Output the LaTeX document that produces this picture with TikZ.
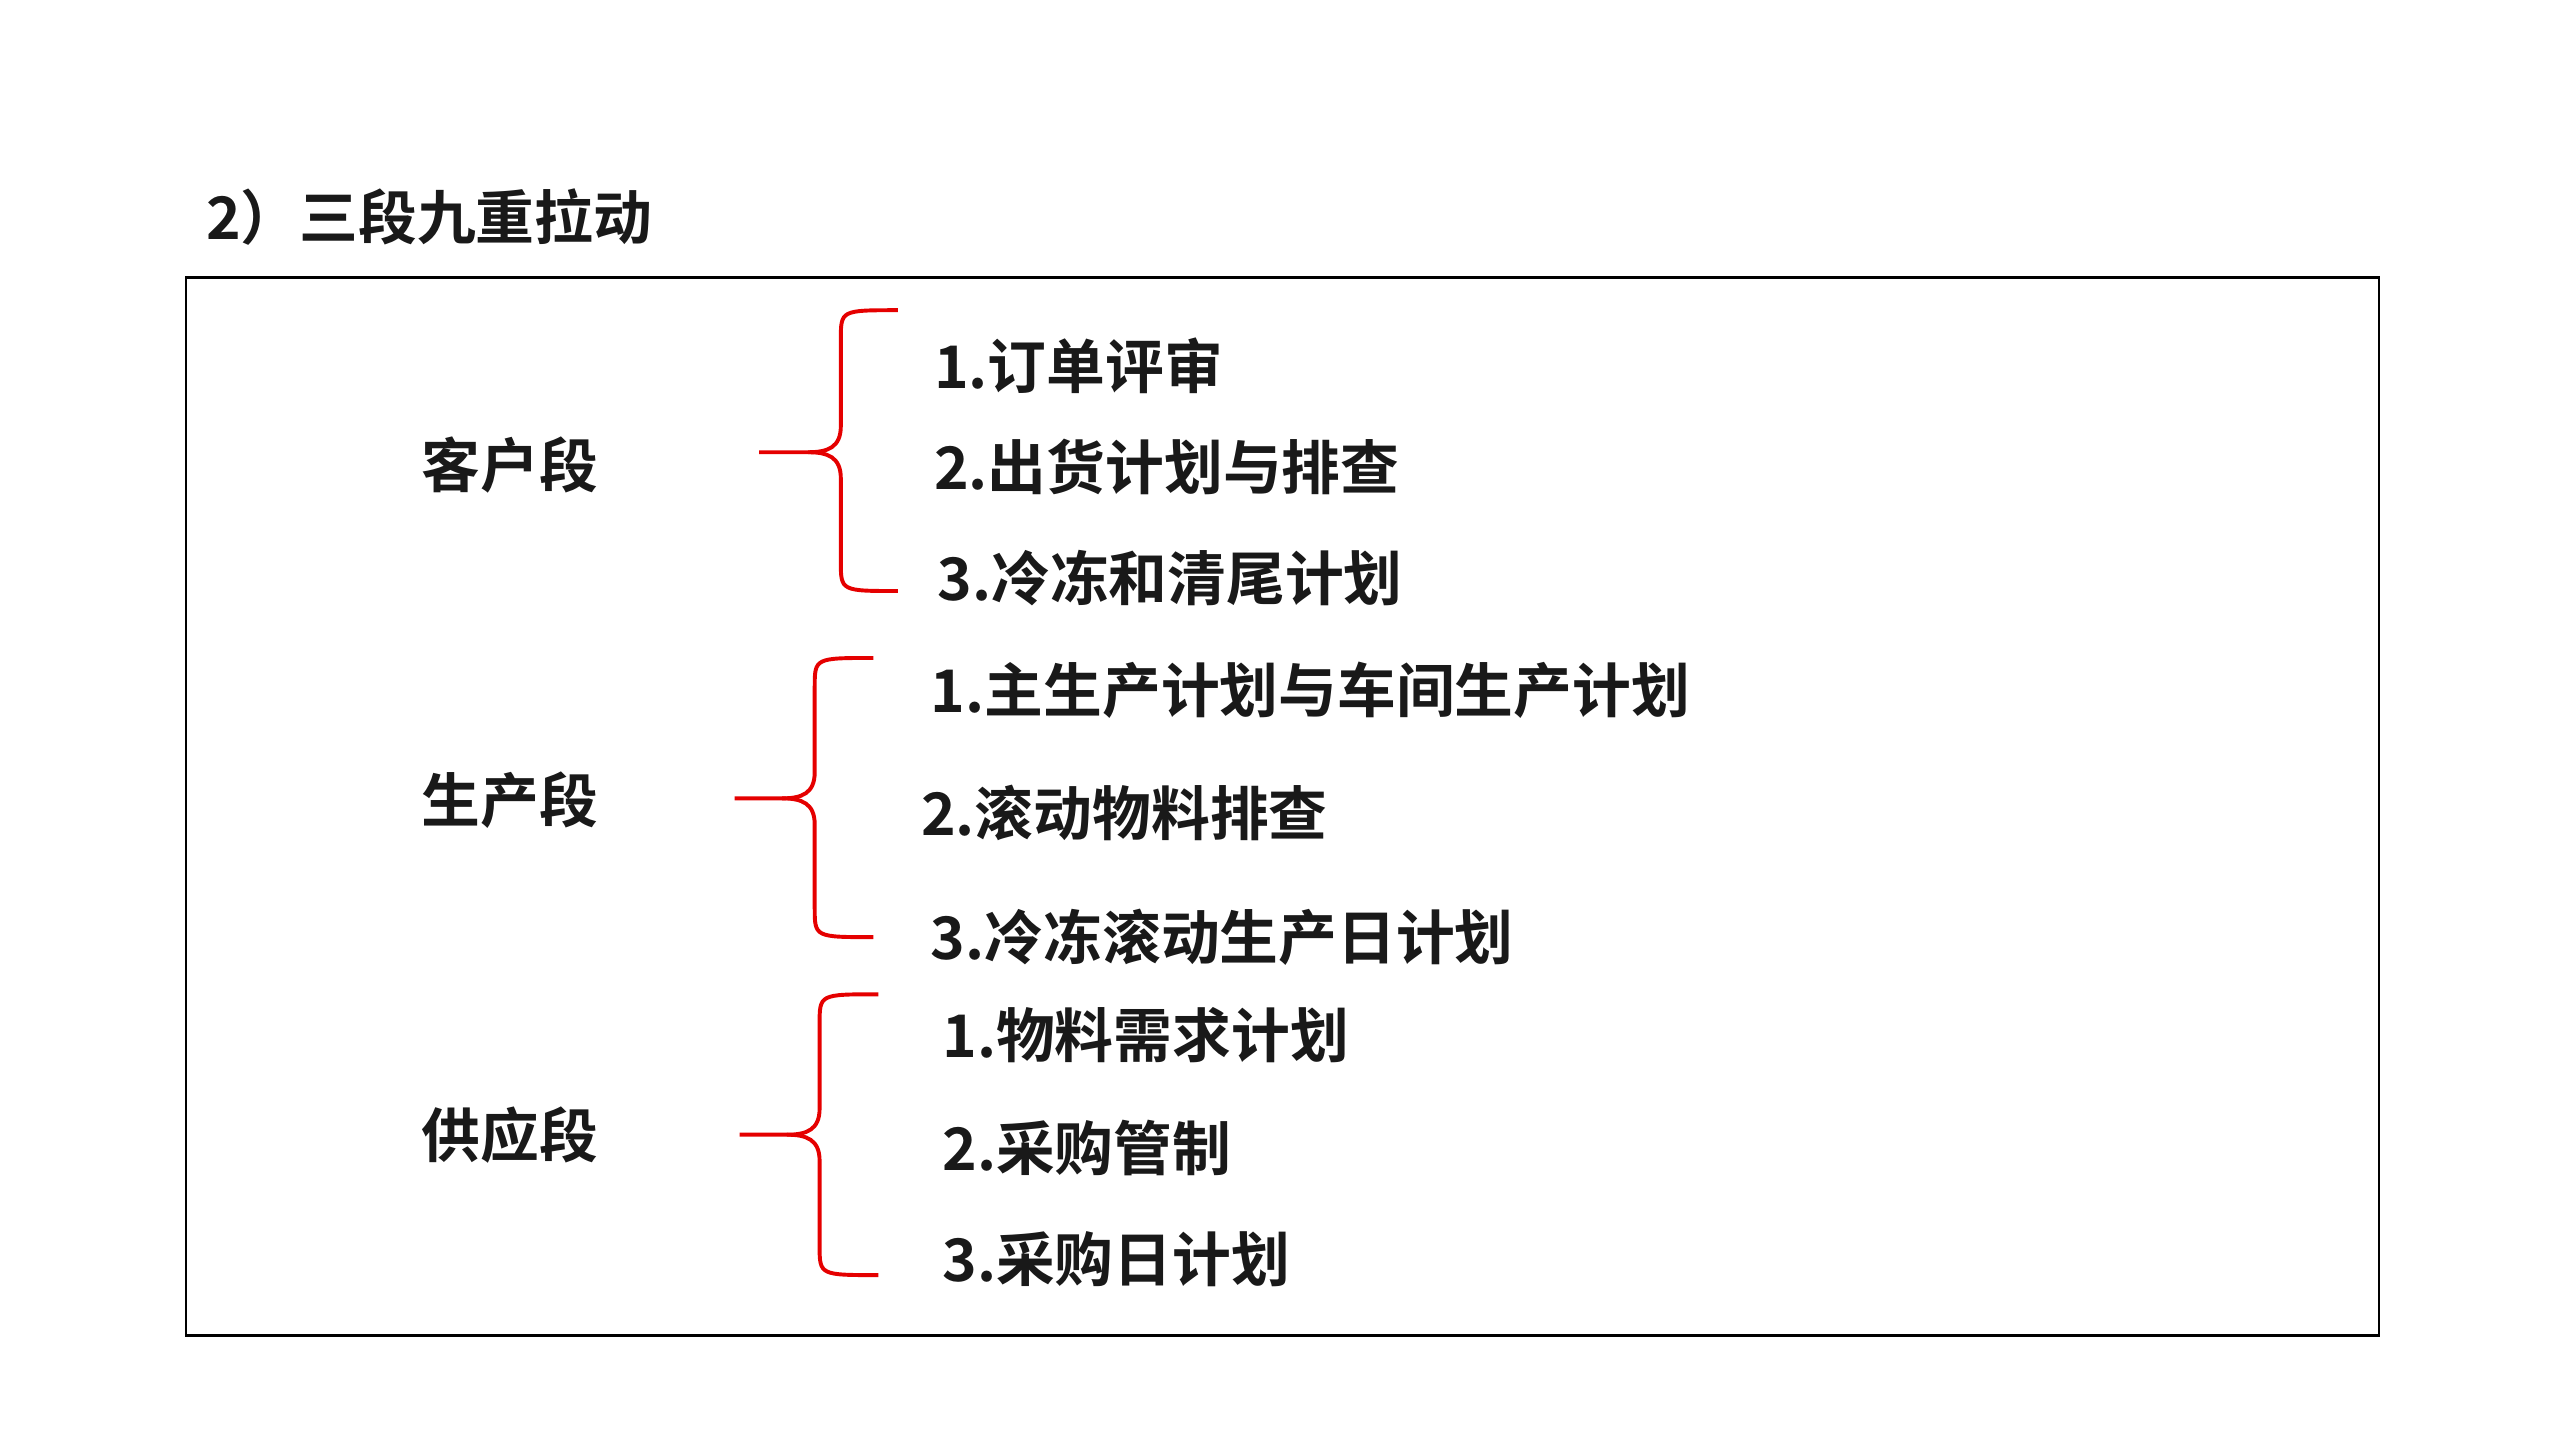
\documentclass[tikz,border=0pt]{standalone}
\usepackage{fontspec}
\newfontfamily\cjk{Noto Sans CJK SC}[BoldFont={* Bold}]
\begin{document}
\begin{tikzpicture}[x=1pt,y=-1pt,
  txt/.style={font=\cjk\bfseries\fontsize{36}{40}\selectfont,anchor=west,inner sep=0pt,text=black!90},
  br/.style={draw=red!90!black,line width=2.4pt}]
\useasboundingbox (0,0) rectangle (1568,882);
\node[txt] (title) at (126,133) {2）三段九重拉动};
\draw[line width=1.3pt] (114,170) rectangle (1457,818);
\node[txt] (s1) at (258,285) {客户段};
\node[txt] (s2) at (258,490) {生产段};
\node[txt] (s3) at (258,695) {供应段};
\node[txt] (a1) at (572,224) {1.订单评审};
\node[txt] (a2) at (572,286) {2.出货计划与排查};
\node[txt] (a3) at (574,354) {3.冷冻和清尾计划};
\node[txt] (b1) at (570,423) {1.主生产计划与车间生产计划};
\node[txt] (b2) at (564,498) {2.滚动物料排查};
\node[txt] (b3) at (570,574) {3.冷冻滚动生产日计划};
\node[txt] (c1) at (577,634) {1.物料需求计划};
\node[txt] (c2) at (577,703) {2.采购管制};
\node[txt] (c3) at (577,771) {3.采购日计划};
\foreach \xl/\x/\xe/\t/\m/\b in {465/515/550/190/277/362, 450/499/535/403/489/574, 453/502/538/609/695/781}{
  \draw[br] (\xe,\t) .. controls (\x,\t) and (\x,\t) .. (\x,\t+18)
    -- (\x,\m-16) .. controls (\x,\m-3) and (\x-8,\m) .. (\x-20,\m) -- (\xl,\m);
  \draw[br] (\xe,\b) .. controls (\x,\b) and (\x,\b) .. (\x,\b-18)
    -- (\x,\m+16) .. controls (\x,\m+3) and (\x-8,\m) .. (\x-20,\m);
}
\end{tikzpicture}
\end{document}
